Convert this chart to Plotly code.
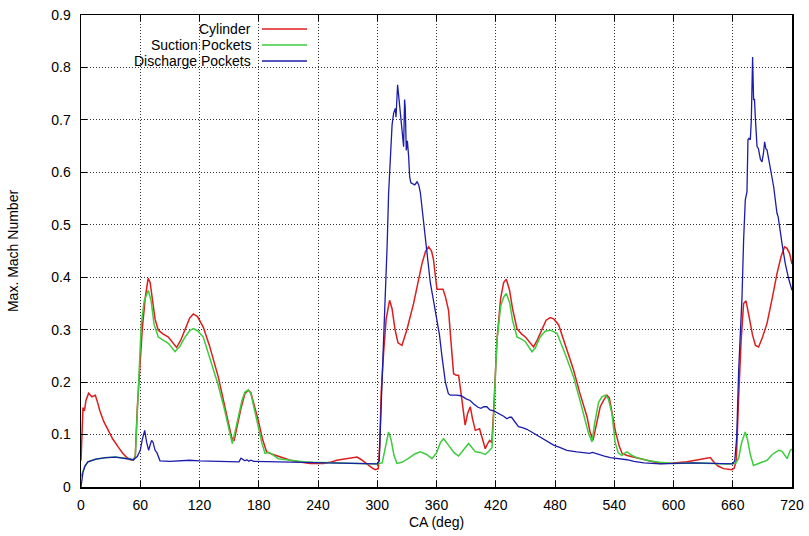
import plotly.graph_objects as go

# ---------------- data ----------------
series_names = ["Cylinder", "Suction Pockets", "Discharge Pockets"]

cyl_ca = [0, 1, 2, 2.6, 3.5, 5, 7.7, 11, 14.5, 17, 19, 23, 27.6, 32, 37.8, 42, 46, 50, 53, 55,
          57, 59.7, 62, 65, 68, 70, 72, 75, 78.3, 83, 88.4, 93, 96.8, 101, 106, 110, 113.7, 118, 123.8, 130,
          139, 145, 150, 152.5, 155, 158, 162, 166, 169.4, 172, 175, 179.5, 184, 188, 193, 199.8, 205, 212, 220, 232,
          245.7, 252, 259, 265, 272.7, 279.5, 284, 290, 295, 298, 301, 302.5, 304, 306.4, 309, 312.5, 315, 318, 321, 325,
          330, 336.8, 341, 345.3, 349, 352, 355, 357, 359, 360.5, 363, 366.6, 369, 372.2, 374, 377.3, 380, 382.4, 385.8, 389,
          391.5, 394.2, 396.5, 399.3, 403.6, 406.5, 409.4, 411.5, 413.8, 416, 418, 421.2, 425, 428, 430.7, 434, 437, 441.5, 446, 450,
          454, 458.3, 462, 466.8, 471, 475.2, 479, 483.7, 491, 498.8, 505, 512.4, 515.5, 518.5, 522, 525.8, 529.2, 532.6, 535, 538,
          541, 545, 548, 553, 559.6, 566, 573, 580, 586.6, 600, 613.7, 625, 637.3, 640.6, 645, 650.7, 655, 659.2, 661.5, 663.6,
          666, 668.5, 671, 673.4, 676, 680, 683, 686.2, 690, 694.7, 700, 704.8, 709, 712.5, 715, 717.6, 720]
cyl_mach = [0.05, 0.12, 0.15, 0.15, 0.145, 0.165, 0.179, 0.172, 0.175, 0.16, 0.146, 0.125, 0.108, 0.092, 0.076, 0.065, 0.057, 0.052, 0.051, 0.06,
            0.15, 0.242, 0.3, 0.36, 0.398, 0.39, 0.36, 0.32, 0.299, 0.292, 0.286, 0.276, 0.266, 0.28, 0.305, 0.322, 0.33, 0.325, 0.305, 0.27,
            0.21, 0.16, 0.12, 0.095, 0.088, 0.115, 0.15, 0.178, 0.185, 0.18, 0.16, 0.127, 0.09, 0.067, 0.063, 0.059, 0.055, 0.051, 0.048, 0.045,
            0.045, 0.047, 0.051, 0.053, 0.056, 0.057, 0.052, 0.043, 0.036, 0.033, 0.035, 0.08, 0.18, 0.255, 0.32, 0.356, 0.34, 0.3, 0.275, 0.27,
            0.3, 0.35, 0.39, 0.426, 0.45, 0.458, 0.45, 0.433, 0.4, 0.377, 0.377, 0.377, 0.363, 0.337, 0.293, 0.216, 0.213, 0.213, 0.165, 0.118,
            0.14, 0.153, 0.13, 0.108, 0.111, 0.09, 0.073, 0.082, 0.089, 0.085, 0.15, 0.28, 0.36, 0.39, 0.396, 0.375, 0.34, 0.302, 0.292, 0.286,
            0.277, 0.267, 0.28, 0.302, 0.318, 0.323, 0.32, 0.309, 0.267, 0.223, 0.18, 0.134, 0.105, 0.089, 0.12, 0.153, 0.165, 0.175, 0.17, 0.14,
            0.108, 0.078, 0.064, 0.06, 0.057, 0.054, 0.051, 0.048, 0.045, 0.046, 0.048, 0.052, 0.056, 0.048, 0.04, 0.035, 0.034, 0.033, 0.036, 0.051,
            0.172, 0.28, 0.35, 0.355, 0.33, 0.29, 0.27, 0.267, 0.285, 0.312, 0.36, 0.407, 0.44, 0.458, 0.455, 0.445, 0.425]

suc_ca = [0, 2, 4, 7, 15, 25, 35, 45, 53, 55, 57, 59, 61, 64, 68.2, 71, 74, 78.3, 83, 88.4,
          95.2, 100, 105, 110, 113.7, 118, 123.8, 130, 139, 145, 150, 153.2, 156, 159.3, 163, 166, 169.4, 172, 175, 179.5,
          183, 186.3, 190, 193, 199.8, 210, 225, 235, 260, 290, 300, 305, 308, 311.5, 314, 317, 320, 325, 332, 338,
          343.6, 350, 355.4, 360, 364, 367.2, 370, 374, 378, 382.4, 387, 392.5, 396, 399.3, 404, 409.4, 413, 416.2, 418, 421.2,
          425, 428, 430.7, 434, 437, 441.5, 446, 450, 456.7, 460, 465, 470, 475.2, 482, 490, 498.8, 506, 514, 517.5, 520,
          524.2, 527.5, 531, 534, 537.7, 540.8, 544, 547.8, 550, 553, 558, 563, 575, 586.6, 600, 620, 640, 654, 663, 666,
          669, 672.7, 675, 678, 681, 687, 694.7, 700, 706.4, 710, 715, 718.3, 720]
suc_mach = [0.02, 0.03, 0.04, 0.048, 0.053, 0.056, 0.057, 0.055, 0.052, 0.057, 0.15, 0.25, 0.31, 0.355, 0.375, 0.355, 0.31, 0.286, 0.28, 0.274,
            0.258, 0.268, 0.285, 0.298, 0.302, 0.298, 0.286, 0.25, 0.194, 0.15, 0.11, 0.083, 0.105, 0.134, 0.165, 0.181, 0.185, 0.178, 0.155, 0.115,
            0.085, 0.064, 0.066, 0.063, 0.054, 0.051, 0.048, 0.047, 0.046, 0.045, 0.044, 0.046, 0.075, 0.105, 0.09, 0.06, 0.045, 0.047, 0.055, 0.063,
            0.067, 0.062, 0.054, 0.065, 0.085, 0.092, 0.085, 0.076, 0.065, 0.059, 0.07, 0.083, 0.075, 0.067, 0.066, 0.062, 0.068, 0.075, 0.14, 0.28,
            0.345, 0.362, 0.369, 0.352, 0.318, 0.286, 0.282, 0.277, 0.258, 0.265, 0.286, 0.297, 0.299, 0.293, 0.255, 0.21, 0.16, 0.102, 0.086, 0.12,
            0.162, 0.172, 0.175, 0.168, 0.14, 0.086, 0.065, 0.06, 0.064, 0.067, 0.06, 0.056, 0.05, 0.047, 0.045, 0.046, 0.045, 0.044, 0.045, 0.055,
            0.085, 0.105, 0.09, 0.06, 0.041, 0.045, 0.051, 0.062, 0.07, 0.068, 0.054, 0.07, 0.072]

dis_ca = [0, 1, 2, 4, 7, 15, 25, 35, 45, 53, 57, 60, 62, 64.5, 66.5, 68.5, 70, 71.5, 73, 75,
          77, 80, 90, 100, 110, 120, 140, 160, 162, 164, 166, 168, 170, 172, 175, 200, 230, 260, 290, 300,
          302, 303.1, 304.8, 306, 308.1, 310, 311.5, 313, 313.9, 315, 316.6, 317.5, 318.3, 319, 320.6, 322, 323.3, 325, 326.7, 327.7,
          328.4, 329.4, 330.5, 331.8, 332.8, 334, 335.2, 338, 340.3, 342, 343.6, 346, 348.7, 351, 353.7, 357, 360.5, 363, 365.6, 367.2,
          369, 372, 374, 380, 385, 390, 394, 398, 402, 405, 408, 411, 414, 418, 421, 424.6, 428, 431.4, 434, 436,
          440, 443, 447, 451.6, 458, 465, 472, 478.6, 485.4, 492, 502, 510, 515, 518, 522.5, 530, 536, 545, 553, 560,
          570, 586.6, 600, 620, 640, 654, 660, 662, 664, 666, 668, 669.4, 671, 672.7, 674.4, 675.4, 676.5, 677.8, 678.8, 680.1,
          681.1, 682, 683, 684.6, 686, 688, 689.6, 691, 692.3, 693.5, 694.7, 697.3, 701.4, 704.8, 706, 709.9, 713.2, 716.5, 720]
dis_mach = [0.0, 0.015, 0.028, 0.04, 0.048, 0.053, 0.056, 0.057, 0.055, 0.052, 0.058, 0.07, 0.09, 0.108, 0.085, 0.07, 0.08, 0.089, 0.085, 0.07,
            0.065, 0.05, 0.049, 0.05, 0.051, 0.05, 0.049, 0.048, 0.055, 0.053, 0.05, 0.052, 0.049, 0.051, 0.049, 0.048, 0.047, 0.046, 0.045, 0.044,
            0.05, 0.127, 0.197, 0.26, 0.35, 0.46, 0.56, 0.61, 0.63, 0.69, 0.713, 0.72, 0.722, 0.705, 0.767, 0.74, 0.713, 0.69, 0.649, 0.739,
            0.72, 0.642, 0.66, 0.63, 0.592, 0.58, 0.579, 0.576, 0.582, 0.576, 0.562, 0.52, 0.471, 0.43, 0.39, 0.355, 0.32, 0.29, 0.248, 0.229,
            0.2, 0.178, 0.175, 0.175, 0.174, 0.168, 0.165, 0.158, 0.152, 0.15, 0.153, 0.153, 0.147, 0.145, 0.142, 0.14, 0.135, 0.13, 0.133, 0.133,
            0.123, 0.115, 0.113, 0.11, 0.103, 0.095, 0.087, 0.08, 0.075, 0.07, 0.067, 0.065, 0.064, 0.066, 0.063, 0.059, 0.056, 0.054, 0.052, 0.049,
            0.046, 0.044, 0.045, 0.046, 0.045, 0.044, 0.044, 0.05, 0.095, 0.223, 0.3, 0.363, 0.471, 0.547, 0.563, 0.662, 0.665, 0.662, 0.7, 0.82,
            0.738, 0.74, 0.7, 0.649, 0.645, 0.625, 0.62, 0.635, 0.658, 0.645, 0.643, 0.617, 0.573, 0.522, 0.515, 0.464, 0.426, 0.398, 0.375]

x_ticks = [0, 60, 120, 180, 240, 300, 360, 420, 480, 540, 600, 660, 720]
y_ticks = [0, 0.1, 0.2, 0.3, 0.4, 0.5, 0.6, 0.7, 0.8, 0.9]

colors = ["#dc1e1e", "#3ccc3c", "#1c1caa"]
widths = [1.5, 1.5, 1.3]

# ---------------- figure ----------------
fig = go.Figure()
for name, xs, ys, c, w in zip(series_names, [cyl_ca, suc_ca, dis_ca], [cyl_mach, suc_mach, dis_mach], colors, widths):
    fig.add_trace(go.Scatter(x=xs, y=ys, mode="lines", name=name,
                             line=dict(color=c, width=w), showlegend=False))

W, H = 809, 536
ml, mr, mt, mb = 81, 17, 15, 49
pw, ph = W - ml - mr, H - mt - mb

def px(xp):  # window pixel -> paper x
    return (xp - ml) / pw

def py(yp):  # window pixel -> paper y
    return (H - mb - yp) / ph

# legend (gnuplot style: right-aligned text, sample line to the right, opaque box)
fig.add_shape(type="rect", xref="paper", yref="paper", x0=0, x1=px(317), y0=py(72), y1=1,
              fillcolor="white", line=dict(width=0), layer="between")
rows_y = [29, 45, 61]
for name, c, w, ry in zip(series_names, colors, widths, rows_y):
    fig.add_annotation(x=px(253), y=py(ry), xref="paper", yref="paper", text=name, showarrow=False,
                       xanchor="right", yanchor="middle", font=dict(size=14, color="black"))
    fig.add_shape(type="line", xref="paper", yref="paper", x0=px(262), x1=px(307), y0=py(ry), y1=py(ry),
                  line=dict(color=c, width=w))

axis_common = dict(showline=True, linecolor="black", linewidth=1.5, mirror="ticks",
                   ticks="inside", ticklen=6, tickwidth=1, tickcolor="black",
                   showgrid=True, gridcolor="#333333", gridwidth=1, griddash="1px,2px",
                   zeroline=False, ticklabeloverflow="allow",
                   tickfont=dict(size=14, color="black"))

fig.update_xaxes(range=[0, 720], tickvals=x_ticks, ticktext=[str(v) for v in x_ticks],
                 title=dict(text="CA (deg)", font=dict(size=14, color="black"), standoff=5),
                 ticklabelstandoff=5, **axis_common)
fig.update_yaxes(range=[0, 0.9], tickvals=y_ticks, ticktext=["0" if v == 0 else f"{v:.1f}" for v in y_ticks],
                 title=dict(text="Max. Mach Number", font=dict(size=14, color="black"), standoff=29),
                 ticklabelstandoff=6, **axis_common)

fig.update_layout(width=W, height=H, margin=dict(l=ml, r=mr, t=mt, b=mb, autoexpand=False),
                  paper_bgcolor="white", plot_bgcolor="white", hovermode=False,
                  font=dict(family="Liberation Sans, Arial, sans-serif", size=14, color="black"))

# remove the default 8px page margin so the figure fills the window exactly
fig.write_html("out.html", config={"displayModeBar": False, "staticPlot": True},
               post_script="document.body.style.margin='0';document.body.style.overflow='hidden';")
